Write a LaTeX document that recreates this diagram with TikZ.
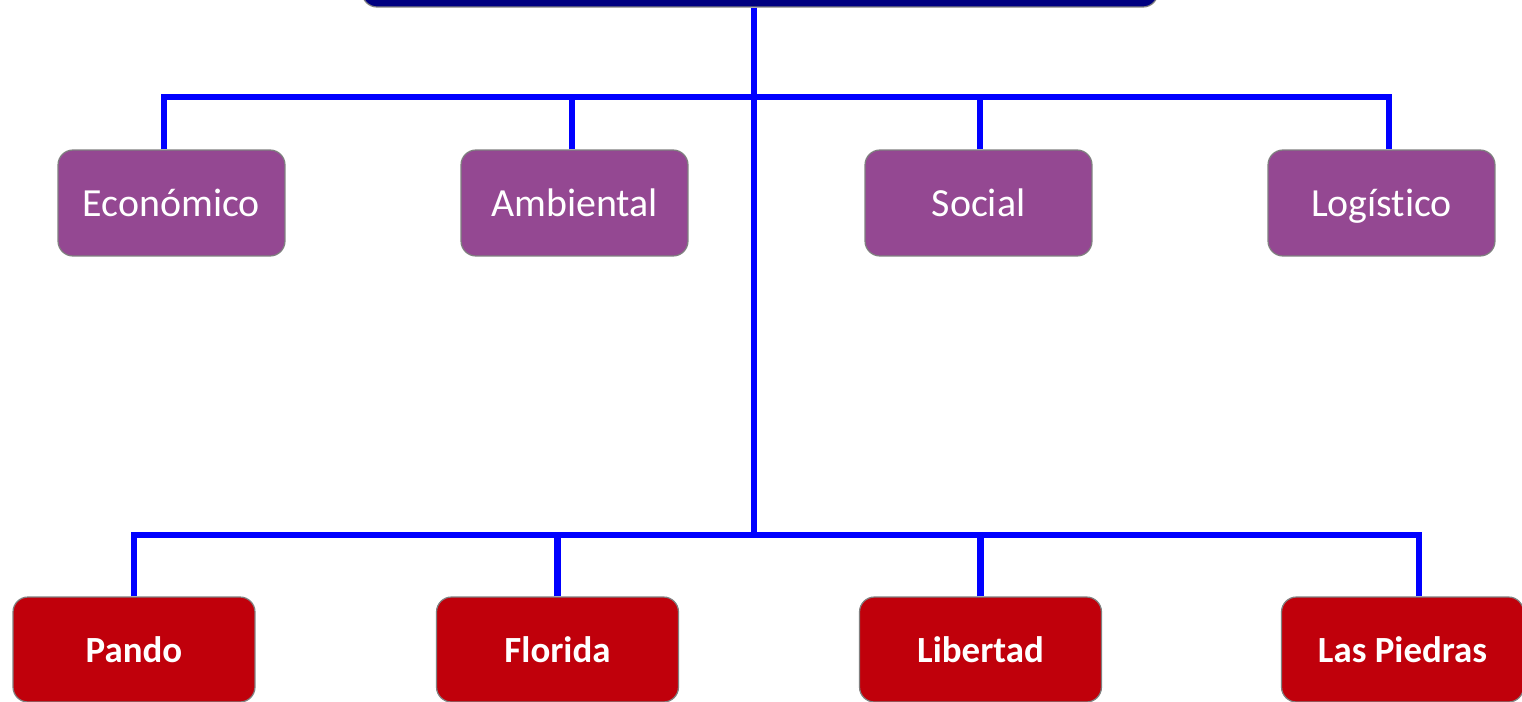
\documentclass[tikz,border=0pt]{standalone}
\usepackage{fontspec}
\setmainfont[Ligatures=NoCommon]{Carlito}
\definecolor{headblue}{RGB}{0,0,128}
\definecolor{critpurple}{RGB}{148,72,146}
\definecolor{cityred}{RGB}{192,0,11}
\definecolor{linkblue}{RGB}{0,0,255}
\tikzset{
	link/.style={line width=3.6pt, color=linkblue},
	critbox/.style={draw=gray, line width=0.7pt, fill=critpurple, rounded corners=8.5pt,
		minimum width=4.54cm, minimum height=2.12cm, text=white, text height=20.4pt, text depth=4.5pt,
		font=\fontsize{22.7}{27}\selectfont},
	citybox/.style={draw=gray, line width=0.7pt, fill=cityred, rounded corners=8.5pt,
		minimum width=4.84cm, minimum height=2.1cm, text=white, text height=18.9pt, text depth=4.2pt,
		font=\fontsize{21}{25}\selectfont\bfseries}
}

\begin{document}
\begin{tikzpicture}[x=0.02cm, y=-0.02cm]
		%%%%% START %%%%%
		
		\useasboundingbox (0, 0) rectangle (1522, 701);
		\clip (0, 0) rectangle (1522, 701);
		
		\node[draw=gray, line width=0.7pt, fill=headblue, rounded corners=8.5pt,
			minimum width=15.92cm, minimum height=1.6cm] (head) at (760, -33) {};
		
		\node[critbox] (eco) at (171.5, 203) {Económico};
		\node[critbox] (amb) at (574.5, 203) {Ambiental};
		\node[critbox] (soc) at (978.5, 203) {Social};
		\node[critbox] (log) at (1381.5, 203) {Logístico};
		
		\node[citybox] (pando) at (134, 649.5) {Pando};
		\node[citybox] (flor) at (557.5, 649.5) {Florida};
		\node[citybox] (lib) at (980.5, 649.5) {Libertad};
		\node[citybox] (piedras) at (1402.5, 649.5) {Las Piedras};
		
		\coordinate (upbus) at (754, 97);
		\coordinate (lowbus) at (754, 535);
		
		\draw[link] (head.south -| lowbus) -- (lowbus);
		
		\draw[link] ([xshift=-0.15cm]eco.north) |- (upbus);
		\draw[link] ([xshift=-0.05cm]amb.north) |- (upbus);
		\draw[link] ([xshift=0.03cm]soc.north) |- (upbus);
		\draw[link] ([xshift=0.15cm]log.north) |- (upbus);
		
		\draw[link] (pando.north) |- (lowbus);
		\draw[link] (flor.north) |- (lowbus);
		\draw[link] (lib.north) |- (lowbus);
		\draw[link] ([xshift=0.33cm]piedras.north) |- (lowbus);
		
		%%%%% END %%%%%
\end{tikzpicture}
\end{document}
